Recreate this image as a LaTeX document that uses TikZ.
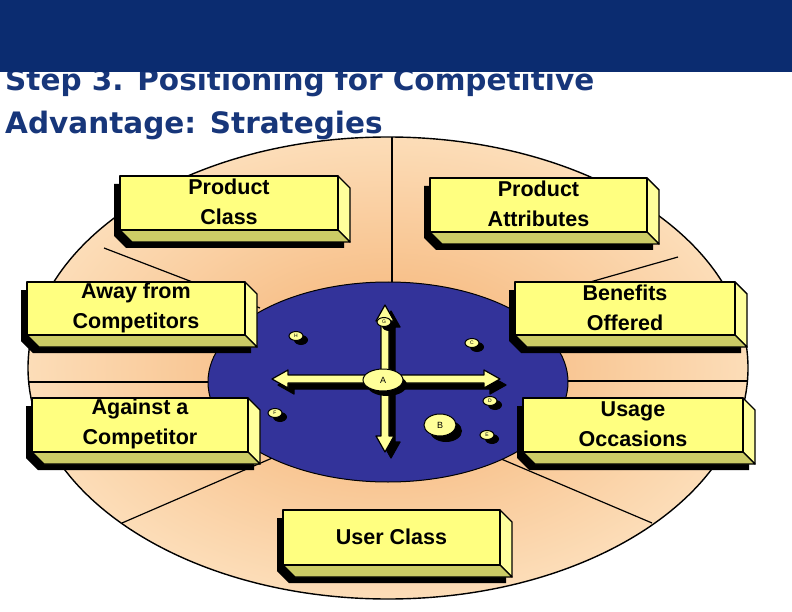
\documentclass[tikz,border=0pt]{standalone}
\usepackage{fontspec}
\setmainfont{Liberation Sans}
\newfontfamily\titlefont{DejaVu Sans}
\usetikzlibrary{shapes.geometric}
\definecolor{navy}{HTML}{0B2C70}
\definecolor{titleblue}{HTML}{17367A}
\definecolor{peachin}{HTML}{F5B070}
\definecolor{peachout}{HTML}{FCDDB8}
\definecolor{innerblue}{HTML}{33339A}
\definecolor{boxfront}{HTML}{FFFF80}
\definecolor{boxside}{HTML}{FFFF9C}
\definecolor{boxbottom}{HTML}{CCCC66}
\definecolor{ayellow}{HTML}{FFFF99}
\tikzset{
  ray/.style={black,line width=1.2pt},
  boxtext/.style={font=\bfseries\fontsize{21.5}{30}\selectfont,align=center,inner sep=0pt},
  face/.style={draw=black,line width=1.4pt,line join=round},
  arrowshape/.style={draw=black,line width=1.2pt,fill=ayellow,line join=round},
  dot/.style={ellipse,draw=black,line width=1pt,fill=ayellow,inner sep=0pt,font=\fontsize{5}{5}\selectfont},
}
% box: x1 y1 x2 y2 name text
\newcommand\pbox[6]{%
  \def\dd{12}%
  \fill[black] ({#1-6},{#2+8}) -- ({#3-6},{#2+8}) -- ({#3+\dd-6},{#2+\dd+8}) -- ({#3+\dd-6},{#4+\dd+6}) -- ({#1+\dd-6},{#4+\dd+6}) -- ({#1-6},{#4+6}) -- cycle;
  \filldraw[face,fill=boxside] (#3,#2) -- ({#3+\dd},{#2+\dd}) -- ({#3+\dd},{#4+\dd}) -- (#3,#4) -- cycle;
  \filldraw[face,fill=boxbottom] (#1,#4) -- (#3,#4) -- ({#3+\dd},{#4+\dd}) -- ({#1+\dd},{#4+\dd}) -- cycle;
  \filldraw[face,fill=boxfront] (#1,#2) rectangle (#3,#4);
  \node[boxtext] (#5) at ({(#1+#3)/2},{(#2+#4)/2-1}) {#6};
}
\newcommand\harrow[4]{% xl xr y style
  \path[arrowshape,#4] (#1,#3) -- ({#1+16},{#3-9}) -- ({#1+16},{#3-4}) -- ({#2-16},{#3-4}) -- ({#2-16},{#3-9}) -- (#2,#3) -- ({#2-16},{#3+9}) -- ({#2-16},{#3+4}) -- ({#1+16},{#3+4}) -- ({#1+16},{#3+9}) -- cycle;}
\newcommand\varrow[4]{% yt yb x style
  \path[arrowshape,#4] (#3,#1) -- ({#3-9},{#1+16}) -- ({#3-4},{#1+16}) -- ({#3-4},{#2-16}) -- ({#3-9},{#2-16}) -- (#3,#2) -- ({#3+9},{#2-16}) -- ({#3+4},{#2-16}) -- ({#3+4},{#1+16}) -- ({#3+9},{#1+16}) -- cycle;}
\begin{document}
\begin{tikzpicture}[x=1pt,y=-1pt]
\useasboundingbox (0,0) rectangle (792,612);
\fill[white] (0,0) rectangle (792,612);
% title
\node[anchor=west,inner sep=0pt,text=titleblue,font=\titlefont\bfseries\fontsize{29.5}{31}\selectfont] (t1) at (5,82) {Step 3. Positioning for Competitive};
\node[anchor=west,inner sep=0pt,text=titleblue,font=\titlefont\bfseries\fontsize{29.5}{31}\selectfont] (t2) at (5,125) {Advantage: Strategies};
\fill[navy] (0,0) rectangle (792,72);
% outer ellipse
\shade[inner color=peachin,outer color=peachout] (388,368) ellipse [x radius=360,y radius=231];
\draw[black,line width=1.4pt] (388,368) ellipse [x radius=360,y radius=231];
% rays
\draw[ray] (104,248) -- (260,308);
\draw[ray] (392,137) -- (392,290);
\draw[ray] (678,257) -- (520,302);
\draw[ray] (652,523) -- (480,450);
\draw[ray] (122,523) -- (300,446);
\draw[ray] (29,382) -- (230,382);
\draw[ray] (550,381) -- (747,381);
% inner ellipse
\fill[innerblue] (388,382) ellipse [x radius=180,y radius=100];
\draw[black,line width=1pt] (388,382) ellipse [x radius=180,y radius=100];
% arrows
\harrow{278}{506}{385}{fill=black,draw=black}
\varrow{311}{458}{391}{fill=black,draw=black}
\harrow{272}{500}{379}{}
\varrow{305}{452}{385}{}
\fill[black] (387,385) ellipse [x radius=20,y radius=11];
\node[dot,minimum width=40pt,minimum height=22pt,font=\fontsize{9}{9}\selectfont] (A) at (383,380) {A};
\fill[black] (446,431) ellipse [x radius=16,y radius=11];
\node[dot,minimum width=32pt,minimum height=22pt,font=\fontsize{9}{9}\selectfont] (B) at (440,425) {B};
\foreach \n/\x/\y/\l in {h/296/336/H,g/384/322/G,c/472/343/C,d/490/401/D,e/487/435/E,f/275/413/F}{
  \fill[black] (\x+5,\y+4) ellipse [x radius=7,y radius=5];
  \node[dot,minimum width=14pt,minimum height=9pt] (\n) at (\x,\y) {\l};
}
% boxes
\pbox{120}{176}{338}{230}{pc}{Product\\Class}
\pbox{430}{178}{647}{232}{pa}{Product\\Attributes}
\pbox{27}{282}{245}{335}{ac}{Away from\\Competitors}
\pbox{515}{282}{735}{335}{bo}{Benefits\\Offered}
\pbox{32}{398}{248}{452}{agc}{Against a\\Competitor}
\pbox{523}{398}{743}{452}{uo}{Usage\\Occasions}
\pbox{283}{510}{500}{565}{uc}{User Class}
\end{tikzpicture}
\end{document}
